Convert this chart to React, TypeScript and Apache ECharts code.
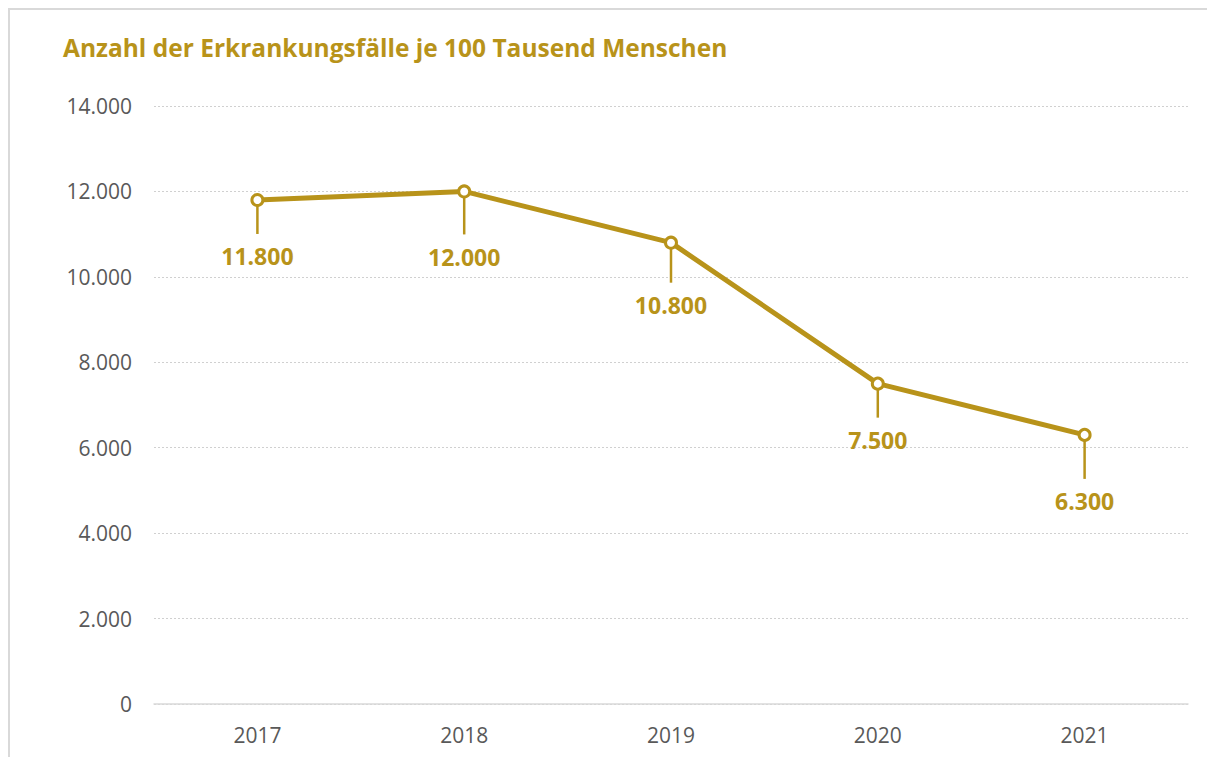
import React, { useEffect, useRef } from "react";
import * as echarts from "echarts";

const years = ["2017", "2018", "2019", "2020", "2021"];
const cases = [11800, 12000, 10800, 7500, 6300];
const labelDrop = [38, 47, 44, 38, 48];
const titleText = "Anzahl der Erkrankungsfälle je 100 Tausend Menschen";

const GOLD = "#B8931A";

const fmt = (v: number) =>
  v.toString().replace(/\B(?=(\d{3})+(?!\d))/g, ".");

export default function App() {
  const ref = useRef<HTMLDivElement>(null);
  useEffect(() => {
    if (!ref.current) return;
    const chart = echarts.init(ref.current, undefined, { renderer: "svg" });
    chart.setOption({
      animation: false,
      title: {
        text: titleText,
        left: 53,
        top: 25,
        padding: 0,
        textStyle: {
          color: GOLD,
          fontFamily: "Open Sans",
          fontWeight: "bold",
          fontSize: 24.5,
        },
      },
      grid: { left: 144, right: 27, top: 96, bottom: 53 },
      xAxis: {
        type: "category",
        data: years,
        boundaryGap: true,
        axisLine: { lineStyle: { color: "#d9d9d9", width: 1.5 } },
        axisTick: { show: false },
        axisLabel: {
          color: "#595959",
          fontSize: 21,
          fontFamily: "Open Sans",
          margin: 20,
        },
      },
      yAxis: {
        type: "value",
        min: 0,
        max: 14000,
        interval: 2000,
        axisLine: { show: false },
        axisTick: { show: false },
        splitLine: { lineStyle: { color: "#d0d0d0", type: [2, 2], width: 1 } },
        axisLabel: {
          color: "#595959",
          fontSize: 21,
          fontFamily: "Open Sans",
          margin: 22,
          formatter: (v: number) => fmt(v),
        },
      },
      series: [
        {
          type: "line",
          data: cases.map((v, i) => ({
            value: v,
            label: { distance: labelDrop[i] },
          })),
          lineStyle: { color: GOLD, width: 5 },
          itemStyle: { color: "#ffffff", borderColor: GOLD, borderWidth: 3 },
          symbol: "circle",
          symbolSize: 11,
          label: {
            show: true,
            position: "bottom",
            color: GOLD,
            fontSize: 23,
            fontWeight: "bold",
            fontFamily: "Open Sans",
            formatter: (p: any) => fmt(p.value),
          },
          z: 3,
        },
        {
          type: "custom",
          data: cases.map((v, i) => [i, v, labelDrop[i]]),
          z: 2,
          silent: true,
          renderItem: (params: any, api: any) => {
            const pt = api.coord([api.value(0), api.value(1)]);
            const drop = api.value(2);
            return {
              type: "line",
              shape: { x1: pt[0], y1: pt[1], x2: pt[0], y2: pt[1] + drop - 4 },
              style: { stroke: GOLD, lineWidth: 2.5 },
            };
          },
        },
      ],
    });
    return () => chart.dispose();
  }, []);
  return (
    <div
      style={{
        width: 1207,
        height: 749,
        boxSizing: "border-box",
        borderTop: "2px solid #d9d9d9",
        borderLeft: "2px solid #d9d9d9",
        position: "relative",
      }}
    >
      <div
        ref={ref}
        style={{ position: "absolute", left: 0, top: 0, width: 1205, height: 747 }}
      />
    </div>
  );
}
